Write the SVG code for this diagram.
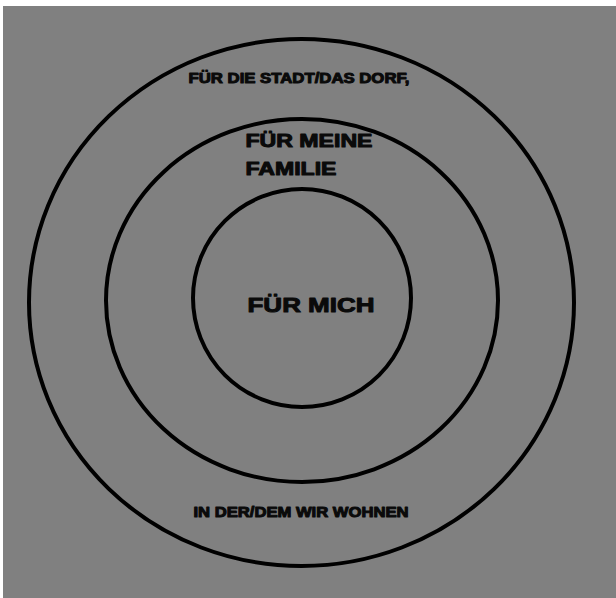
<svg xmlns="http://www.w3.org/2000/svg" width="616" height="598" viewBox="0 0 616 598">
  <style>
    .ring { fill: none; stroke: #000; stroke-width: 4; }
    .lbl { font-family: "Liberation Sans", Arial, sans-serif; font-weight: bold; fill: #0a0a0a; stroke: #0a0a0a; stroke-width: 1; stroke-linejoin: round; }
  </style>
  <rect x="0" y="0" width="616" height="598" fill="#ffffff"/>
  <rect x="3" y="6" width="613" height="592" fill="#808080"/>
  <g id="outer">
    <ellipse class="ring" cx="301.5" cy="302.5" rx="272.5" ry="263.5"/>
    <text class="lbl" x="188.5" y="83" font-size="14" textLength="221" lengthAdjust="spacingAndGlyphs">FÜR DIE STADT/DAS DORF,</text>
    <text class="lbl" x="193.5" y="517" font-size="14" textLength="215" lengthAdjust="spacingAndGlyphs">IN DER/DEM WIR WOHNEN</text>
  </g>
  <g id="middle">
    <ellipse class="ring" cx="302" cy="300.5" rx="196" ry="181.5"/>
    <text class="lbl" x="245.5" y="147" font-size="18" textLength="127" lengthAdjust="spacingAndGlyphs">FÜR MEINE</text>
    <text class="lbl" x="245.5" y="175" font-size="18" textLength="91" lengthAdjust="spacingAndGlyphs">FAMILIE</text>
  </g>
  <g id="inner">
    <ellipse class="ring" cx="302" cy="298" rx="109" ry="109"/>
    <text class="lbl" x="247.5" y="312" font-size="21" textLength="127" lengthAdjust="spacingAndGlyphs">FÜR MICH</text>
  </g>
  <g id="connectors"/>
</svg>
